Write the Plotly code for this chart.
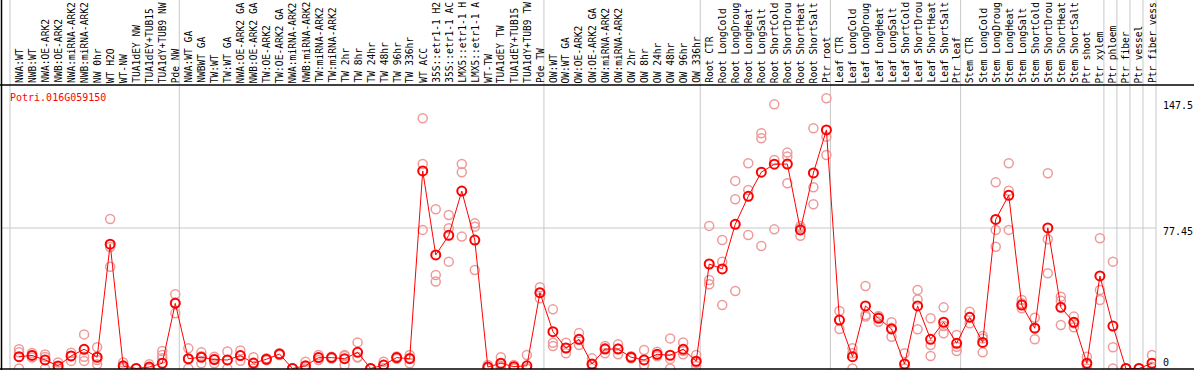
import plotly.graph_objects as go

gene = "Potri.016G059150"

labels = [
    "NWA:WT", "NWB:WT", "NWA:OE-ARK2", "NWB:OE-ARK2", "NWA:miRNA-ARK2", "NWB:miRNA-ARK2",
    "NW 0hr", "WT H2O", "WT-NW", "TUA1dEY NW", "TUA1dEY+TUB15 NW", "TUA1dY+TUB9 NW", "Pde NW",
    "NWA:WT GA", "NWBWT GA", "TW:WT", "TW:WT GA", "NWA:OE-ARK2 GA", "NWB:OE-ARK2 GA",
    "TW:OE-ARK2", "TW:OE-ARK2 GA", "NWA:miRNA-ARK2", "NWB:miRNA-ARK2", "TW:miRNA-ARK2",
    "TW:miRNA-ARK2", "TW 2hr", "TW 8hr", "TW 24hr", "TW 48hr", "TW 96hr", "TW 336hr",
    "WT ACC", "35S::etr1-1 H2O", "35S::etr1-1 ACC", "LMX5::etr1-1 H2O", "LMX5::etr1-1 ACC",
    "WT-TW", "TUA1dEY TW", "TUA1dEY+TUB15 TW", "TUA1dY+TUB9 TW", "Pde TW",
    "OW:WT", "OW:WT GA", "OW:OE-ARK2", "OW:OE-ARK2 GA", "OW:miRNA-ARK2", "OW:miRNA-ARK2",
    "OW 2hr", "OW 8hr", "OW 24hr", "OW 48hr", "OW 96hr", "OW 336hr",
    "Root CTR", "Root LongCold", "Root LongDrought", "Root LongHeat", "Root LongSalt",
    "Root ShortCold", "Root ShortDrought", "Root ShortHeat", "Root ShortSalt", "Ptr root",
    "Leaf CTR", "Leaf LongCold", "Leaf LongDrought", "Leaf LongHeat", "Leaf LongSalt",
    "Leaf ShortCold", "Leaf ShortDrought", "Leaf ShortHeat", "Leaf ShortSalt", "Ptr leaf",
    "Stem CTR", "Stem LongCold", "Stem LongDrought", "Stem LongHeat", "Stem LongSalt",
    "Stem ShortCold", "Stem ShortDrought", "Stem ShortHeat", "Stem ShortSalt",
    "Ptr shoot", "Ptr xylem", "Ptr phloem", "Ptr fiber", "Ptr vessel", "Ptr fiber vessel",
]

mean_expr = [
    6.5, 7.2, 4.7, 1.4, 6.9, 10.6, 6.2, 68.5, 1.5, 0, 0.8, 2.9, 35.9,
    5.4, 6.2, 4.9, 4.7, 7.1, 3.0, 5.1, 8.0, 0, 1.5, 6.0, 6.0, 5.4, 8.9, 0, 1.9, 6.0, 5.4,
    108.9, 62.6, 73.4, 97.8, 70.8, 0.8, 2.9, 1.0, 1.5, 41.8,
    20.3, 11.3, 16.1, 2.5, 10.7, 10.7, 6.2, 4.7, 7.8, 7.3, 10.6, 4.0,
    57.6, 54.9, 79.5, 94.9, 108.2, 112.6, 112.7, 76.4, 107.8, 131.5,
    26.7, 6.5, 34.5, 27.7, 21.8, 2.5, 34.5, 16.1, 25.5, 13.9,
    28.2, 14.4, 82.2, 95.5, 35.0, 22.2, 77.5, 33.7, 25.5, 2.9, 51.0,
    23.4, 0, 0, 2.9,
]

rep_a = [
    10.6, 8.5, 7.7, 3.3, 8.7, 18.8, 11.7, 82.4, 3.3, 0, 2.4, 9.6, 40.9,
    11.1, 8.9, 6.5, 9.4, 9.9, 6.2, 5.6, 8.4, 0, 3.7, 7.4, 6.5, 7.4, 14.4, 0, 3.7, 6.6, 7.4,
    137.9, 87.8, 84.6, 112.7, 80.0, 1.9, 6.2, 1.9, 7.4, 44.8,
    32.6, 14.2, 19.5, 5.6, 12.4, 13.3, 6.8, 10.2, 9.3, 16.6, 14.4, 7.4,
    78.6, 70.8, 103.4, 113.1, 129.7, 145.6, 119.0, 78.5, 132.4, 149.0,
    31.7, 11.1, 45.5, 28.9, 25.5, 8.4, 43.3, 27.7, 33.7, 18.5,
    31.3, 17.9, 102.6, 113.1, 37.8, 28.0, 107.6, 39.6, 28.6, 6.5, 71.8,
    58.9, 0, 0, 7.4,
]

rep_b = [
    8.9, 7.5, 6.4, 1.0, 6.9, 6.5, 4.7, 67.0, 1.0, 0, 0, 7.4, 36.4,
    5.0, 6.8, 5.3, 4.7, 7.1, 2.8, 5.1, 7.4, 0, 1.0, 6.0, 6.0, 6.9, 6.3, 0, 1.9, 6.0, 5.9,
    112.7, 51.5, 77.3, 108.2, 78.2, 0.5, 1.5, 1.0, 0, 41.8,
    14.2, 11.3, 15.9, 1.9, 11.3, 11.0, 6.2, 2.0, 7.4, 5.3, 9.6, 3.2,
    48.8, 58.9, 93.3, 98.4, 126.9, 114.9, 116.8, 77.5, 99.9, 127.8,
    26.7, 8.4, 29.5, 28.4, 22.4, 0, 38.1, 13.0, 23.4, 12.0,
    28.4, 16.6, 76.4, 98.0, 35.9, 22.5, 71.2, 37.4, 24.9, 2.2, 43.3,
    11.7, 0, 0, 1.0,
]

rep_c = [
    0, 6.0, 0, 0, 4.2, 4.2, 2.3, 56.1, 0.3, 0, 0, 5.6, 30.4,
    0, 2.9, 2.9, 0, 4.3, 0, 4.6, 8.0, 0, 0, 4.7, 5.5, 1.9, 6.0, 0, 0.2, 5.4, 2.9,
    76.4, 47.9, 58.9, 72.7, 54.3, 0, 1.0, 0, 0, 38.7,
    12.4, 8.4, 13.0, 0.1, 8.4, 7.8, 5.6, 1.9, 6.7, 0, 7.8, 1.4,
    46.4, 35.0, 42.7, 73.6, 67.5, 76.7, 102.1, 73.2, 90.5, 117.7,
    21.8, 0, 28.6, 25.8, 17.5, 0, 21.6, 6.9, 19.4, 9.6,
    24.9, 8.9, 67.1, 76.4, 33.2, 16.1, 52.5, 24.0, 22.7, 0, 37.8,
    0, 0, 0, 0.3,
]

section_breaks = [0, 13, 41, 53, 63, 73, 84, 85, 86, 87, 88]
y_labels = [147.5, 77.45, 0]
label_chars = 14  # the header band only has room for 14 characters

# ---- geometry ----
W, H = 1194, 370
L, R, T, B = 10, 38, 85, 1
pw = W - L - R
ph = H - T - B
n = len(labels)
slot = pw / n
shift = 2.5 / slot
y_min, y_max = -0.276, 156.27

RED = "#ff0000"
PINK = "#ee9a9a"
GRAY = "#c8c8c8"
FONT = "DejaVu Sans Mono"


def px_x(px):
    return (px - L) / pw


def px_y(py):
    return (H - B - py) / ph


fig = go.Figure()

rx, ry = [], []
for i in range(n):
    for rep in (rep_a, rep_b, rep_c):
        rx.append(i)
        ry.append(rep[i])

fig.add_trace(go.Scatter(
    x=rx, y=ry, mode="markers",
    marker=dict(symbol="circle-open", size=9, color=PINK, line=dict(width=1.5)),
    hoverinfo="skip", showlegend=False,
))
fig.add_trace(go.Scatter(
    x=list(range(n)), y=mean_expr, mode="lines+markers",
    line=dict(color=RED, width=1),
    marker=dict(symbol="circle-open", size=9, color=RED, line=dict(width=2)),
    text=labels, hovertemplate="%{text}: %{y}<extra></extra>",
    showlegend=False,
))

shapes = []
# section separators (full height, through label area)
for k in section_breaks:
    shapes.append(dict(type="line", xref="paper", yref="paper",
                       x0=k / n, x1=k / n, y0=px_y(H), y1=px_y(0),
                       line=dict(color=GRAY, width=1), layer="below"))
# mid gridline
shapes.append(dict(type="line", xref="paper", yref="y",
                   x0=px_x(1), x1=1, y0=y_labels[1], y1=y_labels[1],
                   line=dict(color=GRAY, width=1), layer="below"))
# black frame lines
shapes.append(dict(type="line", xref="paper", yref="paper",
                   x0=px_x(0), x1=px_x(W), y0=px_y(85), y1=px_y(85),
                   line=dict(color="black", width=1.5)))
shapes.append(dict(type="line", xref="paper", yref="paper",
                   x0=px_x(0), x1=px_x(W), y0=px_y(369), y1=px_y(369),
                   line=dict(color="black", width=1.5)))
shapes.append(dict(type="line", xref="paper", yref="paper",
                   x0=px_x(1.5), x1=px_x(1.5), y0=px_y(H), y1=px_y(0),
                   line=dict(color="black", width=1.5)))

annotations = []
for k, lab in enumerate(labels):
    annotations.append(dict(
        text=lab[:label_chars], xref="paper", yref="paper", x=(k + 0.5) / n, y=px_y(84),
        xanchor="center", yanchor="bottom", textangle=-90, showarrow=False,
        xshift=3, borderpad=0, font=dict(family=FONT, size=9.6, color="black"),
    ))

annotations.append(dict(
    text=gene, xref="paper", yref="paper", x=px_x(9), y=px_y(97),
    xanchor="left", yanchor="middle", showarrow=False, borderpad=0,
    font=dict(family=FONT, size=10, color=RED),
))

shifts = {147.5: -5, 77.45: -4, 0: 6.5}
for v in y_labels:
    annotations.append(dict(
        text=f"{v:g}", xref="paper", yref="y", x=px_x(1162), y=v,
        xanchor="left", yanchor="middle", yshift=shifts[v], showarrow=False,
        borderpad=0, font=dict(family=FONT, size=10, color="black"),
    ))

fig.update_layout(
    width=W, height=H,
    margin=dict(l=L, r=R, t=T, b=B, pad=0),
    paper_bgcolor="white", plot_bgcolor="white",
    xaxis=dict(range=[-0.5 - shift, n - 0.5 - shift], showgrid=False, zeroline=False,
               showticklabels=False, ticks="", showline=False, fixedrange=True),
    yaxis=dict(range=[y_min, y_max], showgrid=False, zeroline=False,
               showticklabels=False, ticks="", showline=False, fixedrange=True),
    shapes=shapes, annotations=annotations, showlegend=False,
)

fig.write_html(
    "out.html",
    config={"displayModeBar": False},
    post_script="document.body.style.margin='0';document.body.style.overflow='hidden';",
)
